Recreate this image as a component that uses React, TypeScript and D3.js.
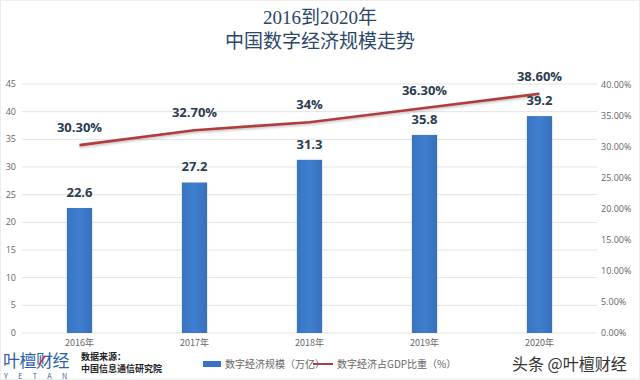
import React from "react";
import * as d3 from "d3";

const years = ["2016年", "2017年", "2018年", "2019年", "2020年"];
const scaleValues = [22.6, 27.2, 31.3, 35.8, 39.2];
const scaleLabels = ["22.6", "27.2", "31.3", "35.8", "39.2"];
const gdpShare = [30.3, 32.7, 34.0, 36.3, 38.6];
const gdpLabels = ["30.30%", "32.70%", "34%", "36.30%", "38.60%"];
const leftTicks = [0, 5, 10, 15, 20, 25, 30, 35, 40, 45];
const rightTicks = [0, 5, 10, 15, 20, 25, 30, 35, 40];
const titleLines = ["2016到2020年", "中国数字经济规模走势"];
const legendNames = ["数字经济规模（万亿）", "数字经济占GDP比重（%）"];

const W = 640;
const H = 380;
const plotLeft = 22;
const plotRight = 597;
const plotTop = 84;
const plotBottom = 333;

const sans = "'Noto Sans CJK SC', 'Open Sans', sans-serif";
const labelFont = "'Open Sans', 'Noto Sans CJK SC', sans-serif";

export default function App() {
  const x = d3.scaleBand<string>().domain(years).range([plotLeft, plotRight]).paddingInner(0.78).paddingOuter(0.39);
  const yL = d3.scaleLinear().domain([0, 45]).range([plotBottom, plotTop]);
  const yR = d3.scaleLinear().domain([0, 40]).range([plotBottom, plotTop + 1]);
  const line = d3
    .line<number>()
    .x((_, i) => (x(years[i]) as number) + x.bandwidth() / 2)
    .y((d) => yR(d));
  const pathD = line(gdpShare) || "";

  return (
    <div style={{ position: "absolute", left: 0, top: 0, width: W, height: H, background: "#fff" }}>
      <svg width={W} height={H} viewBox={`0 0 ${W} ${H}`} style={{ display: "block" }}>
        <defs>
          <linearGradient id="barGrad" x1="0" x2="1" y1="0" y2="0">
            <stop offset="0" stopColor="#3a74c0" />
            <stop offset="0.5" stopColor="#3f7fcf" />
            <stop offset="1" stopColor="#3870bb" />
          </linearGradient>
          <filter id="shadow" x="-5%" y="-20%" width="110%" height="140%">
            <feDropShadow dx="0" dy="1.5" stdDeviation="1" floodColor="#000" floodOpacity="0.25" />
          </filter>
        </defs>
        <rect x={0.5} y={0.5} width={W - 1} height={H - 1} fill="#fff" stroke="#ececec" />

        {titleLines.map((t, i) => (
          <text
            key={t}
            x={W / 2}
            y={24 + i * 24}
            textAnchor="middle"
            fontFamily="'Liberation Serif', 'Noto Sans CJK SC', serif"
            fontSize={19}
            fill="#2c4668"
          >
            {t}
          </text>
        ))}

        {leftTicks.map((t) => (
          <g key={"l" + t}>
            <line x1={plotLeft} x2={plotRight} y1={yL(t)} y2={yL(t)} stroke="#e3e3e3" strokeWidth={1} />
            <text x={16} y={yL(t) + 3} textAnchor="end" fontFamily={labelFont} fontSize={9} fill="#666">
              {t}
            </text>
          </g>
        ))}
        {rightTicks.map((t) => (
          <text key={"r" + t} x={601} y={yR(t) + 3} fontFamily={labelFont} fontSize={9} fill="#666">
            {t.toFixed(2)}%
          </text>
        ))}

        {scaleValues.map((v, i) => (
          <rect
            key={"b" + i}
            x={x(years[i])}
            y={yL(v)}
            width={x.bandwidth()}
            height={plotBottom - yL(v)}
            fill="url(#barGrad)"
          />
        ))}

        {years.map((yr) => (
          <text
            key={yr}
            x={(x(yr) as number) + x.bandwidth() / 2}
            y={346}
            textAnchor="middle"
            fontFamily={sans}
            fontSize={9}
            fill="#666"
          >
            {yr}
          </text>
        ))}

        <path d={pathD} fill="none" stroke="#b03c3c" strokeWidth={2.6} filter="url(#shadow)" />

        {scaleValues.map((v, i) => (
          <text
            key={"bl" + i}
            x={(x(years[i]) as number) + x.bandwidth() / 2}
            y={yL(v) - 11}
            textAnchor="middle"
            fontFamily={labelFont}
            fontWeight="bold"
            fontSize={13}
            fill="#2b3b50"
          >
            {scaleLabels[i]}
          </text>
        ))}
        {gdpShare.map((v, i) => (
          <text
            key={"gl" + i}
            x={(x(years[i]) as number) + x.bandwidth() / 2}
            y={yR(v) - 13}
            textAnchor="middle"
            fontFamily={labelFont}
            fontWeight="bold"
            fontSize={13}
            fill="#2b3b50"
          >
            {gdpLabels[i]}
          </text>
        ))}

        {/* legend */}
        <rect x={203} y={361} width={18} height={6} fill="#3a74c0" />
        <text x={225} y={368} fontFamily={sans} fontSize={10} fill="#666">
          {legendNames[0]}
        </text>
        <line x1={313} x2={333} y1={364} y2={364} stroke="#b03c3c" strokeWidth={2} />
        <text x={337} y={368} fontFamily={sans} fontSize={10} fill="#666">
          {legendNames[1]}
        </text>

        {/* watermark / source */}
        <text x={3} y={367} fontFamily={sans} fontSize={17} fill="#2a62a8" letterSpacing={-0.5}>
          叶檀财经
        </text>
        <line x1={39} x2={45} y1={365} y2={356} stroke="#d03030" strokeWidth={1.5} />
        <text x={4} y={379} fontFamily={sans} fontSize={7} fill="#2a62a8" letterSpacing={10.5}>
          YETAN
        </text>
        <text x={81} y={360} fontFamily={sans} fontWeight="bold" fontSize={9} fill="#222">
          数据来源：
        </text>
        <text x={81} y={372} fontFamily={sans} fontWeight="bold" fontSize={9} fill="#222">
          中国信息通信研究院
        </text>
        <text x={512} y={370} fontFamily={sans} fontSize={16} fill="#333">
          头条 @叶檀财经
        </text>
      </svg>
    </div>
  );
}
